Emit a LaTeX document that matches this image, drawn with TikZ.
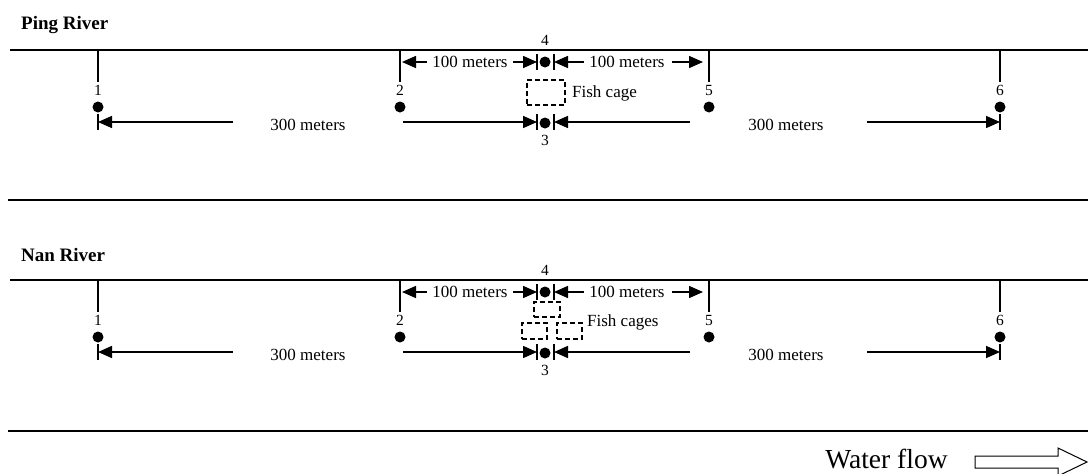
\documentclass[tikz,border=0pt]{standalone}
\usepackage{fontspec}
\setmainfont{Liberation Serif}
\usetikzlibrary{arrows.meta,positioning}

\begin{document}
\begin{tikzpicture}[
    x=1pt, y=-1pt,
    bank/.style={line width=2pt},
    tick/.style={line width=1.5pt, shorten >=2pt},
    site/.style={circle, fill=black, inner sep=0pt, minimum size=11pt},
    num/.style={font=\fontsize{15.5}{17}\selectfont, inner sep=1pt},
    dist/.style={font=\fontsize{17}{19}\selectfont, inner sep=0pt},
    dim/.style={-{Triangle[length=14pt, width=12pt]}, line width=1.5pt},
    bar/.style={line width=1.5pt},
    cage/.style={draw, line width=1.3pt, dash pattern=on 5pt off 3pt, inner sep=0pt},
    rivertitle/.style={font=\fontsize{19}{21}\selectfont\bfseries, anchor=west, inner sep=0pt},
]
\useasboundingbox (0,0) rectangle (1088,474);

% ── Ping River ──────────────────────────────────────────────────────────────
\node[rivertitle] (ptitle) at (21,25) {Ping River};
\coordinate (pl) at (10,50);
\coordinate (pr) at (1088,50);
\draw[bank] (pl) -- (pr);
\draw[bank] (8,200) -- (1088,200);

\node[site] (p1) at (98,107)  {};
\node[site] (p2) at (400,107) {};
\node[site] (p5) at (709,107) {};
\node[site] (p6) at (1000,107) {};
\node[site] (p4) at (545,62)  {};
\node[site] (p3) at (545,123) {};
\node[num] (p1n) at (98,90)   {1};
\node[num] (p2n) at (400,90)  {2};
\node[num] (p5n) at (709,90)  {5};
\node[num] (p6n) at (1000,90) {6};
\node[num] (p4n) at (545,40)  {4};
\node[num] (p3n) at (545,140) {3};

\foreach \s in {p1n,p2n,p5n,p6n}
    \draw[tick] (\s |- pl) -- (\s.north);

% bars and arrow tails
\coordinate (pb1)  at (98,122);
\coordinate (pb3l) at (537,122);
\coordinate (pb3r) at (554,122);
\coordinate (pb6)  at (1000,122);
\coordinate (pb4l) at (537,62);
\coordinate (pb4r) at (554,62);
\foreach \b in {pb1,pb3l,pb3r,pb6,pb4l,pb4r}
    \draw[bar] ([yshift=8pt]\b) -- ([yshift=-8pt]\b);

\node[dist] (pd24) at (470,62)  {100 meters};
\node[dist] (pd45) at (627,62)  {100 meters};
\node[dist] (pd13) at (308,125) {300 meters};
\node[dist] (pd36) at (786,125) {300 meters};

\draw[dim, shorten >=2pt] (427,62) coordinate (pu2) -- (p2n |- pb4l);
\draw[dim] (513,62) coordinate (pu4l) -- (pb4l);
\draw[dim] (584,62) coordinate (pu4r) -- (pb4r);
\draw[dim, shorten >=6pt] (672,62) coordinate (pu5) -- (p5n |- pb4r);
\draw[dim] (233,122) coordinate (pt1)  -- (pb1);
\draw[dim] (403,122) coordinate (pt3l) -- (pb3l);
\draw[dim] (690,122) coordinate (pt3r) -- (pb3r);
\draw[dim] (867,122) coordinate (pt6)  -- (pb6);

\node[cage, minimum width=38pt, minimum height=25pt] (pcage) at (546,92.5) {};
\node[dist, anchor=west] (pcagelbl) at (572,93) {Fish cage};

% ── Nan River ───────────────────────────────────────────────────────────────
\node[rivertitle] (ntitle) at (21,255) {Nan River};
\coordinate (nl) at (10,280);
\coordinate (nr) at (1088,280);
\draw[bank] (nl) -- (nr);
\draw[bank] (8,431) -- (1088,431);

\node[site] (n1) at (98,337)  {};
\node[site] (n2) at (400,337) {};
\node[site] (n5) at (709,337) {};
\node[site] (n6) at (1000,337) {};
\node[site] (n4) at (545,292) {};
\node[site] (n3) at (545,353) {};
\node[num] (n1n) at (98,320)   {1};
\node[num] (n2n) at (400,320)  {2};
\node[num] (n5n) at (709,320)  {5};
\node[num] (n6n) at (1000,320) {6};
\node[num] (n4n) at (545,270)  {4};
\node[num] (n3n) at (545,370)  {3};

\foreach \s in {n1n,n2n,n5n,n6n}
    \draw[tick] (\s |- nl) -- (\s.north);

\coordinate (nb1)  at (98,352);
\coordinate (nb3l) at (537,352);
\coordinate (nb3r) at (554,352);
\coordinate (nb6)  at (1000,352);
\coordinate (nb4l) at (537,292);
\coordinate (nb4r) at (554,292);
\foreach \b in {nb1,nb3l,nb3r,nb6,nb4l,nb4r}
    \draw[bar] ([yshift=8pt]\b) -- ([yshift=-8pt]\b);

\node[dist] (nd24) at (470,292) {100 meters};
\node[dist] (nd45) at (627,292) {100 meters};
\node[dist] (nd13) at (308,355) {300 meters};
\node[dist] (nd36) at (786,355) {300 meters};

\draw[dim, shorten >=2pt] (427,292) coordinate (nu2) -- (n2n |- nb4l);
\draw[dim] (513,292) coordinate (nu4l) -- (nb4l);
\draw[dim] (584,292) coordinate (nu4r) -- (nb4r);
\draw[dim, shorten >=6pt] (672,292) coordinate (nu5) -- (n5n |- nb4r);
\draw[dim] (233,352) coordinate (nt1)  -- (nb1);
\draw[dim] (403,352) coordinate (nt3l) -- (nb3l);
\draw[dim] (690,352) coordinate (nt3r) -- (nb3r);
\draw[dim] (867,352) coordinate (nt6)  -- (nb6);

\node[cage, minimum width=26pt, minimum height=15pt] (ncagea) at (547,309.5) {};
\node[cage, minimum width=25pt, minimum height=16pt] (ncageb) at (534.5,331) {};
\node[cage, minimum width=25pt, minimum height=16pt] (ncagec) at (569.5,331) {};
\node[dist, anchor=west] (ncagelbl) at (587,322) {Fish cages};

% ── Water flow ──────────────────────────────────────────────────────────────
\node[font=\fontsize{27.5}{30}\selectfont, inner sep=0pt, anchor=base] (flowlbl) at (886.5,468) {Water flow};
\draw[line width=1pt] (975,456) coordinate (flow) -- (1058,456) -- (1058,448) -- (1087,462)
    -- (1058,476) -- (1058,468) -- (975,468) -- cycle;

\end{tikzpicture}
\end{document}
